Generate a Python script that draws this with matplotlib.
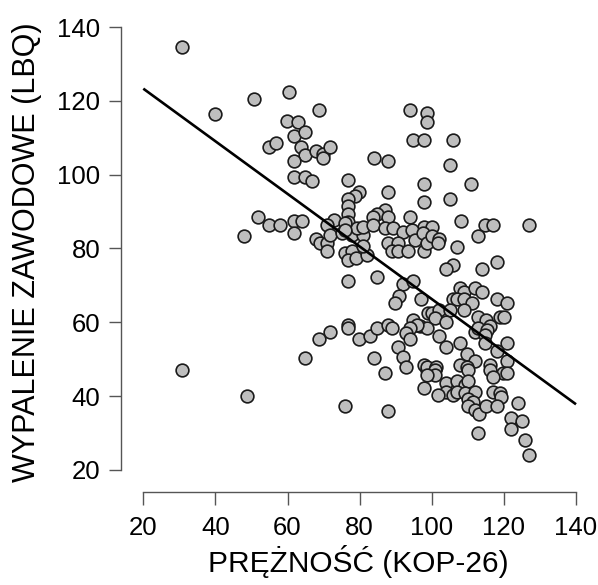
import matplotlib
matplotlib.use("Agg")
import matplotlib.pyplot as plt
import numpy as np

plt.rcParams['font.family'] = ['Liberation Sans', 'DejaVu Sans']

# PREZNOSC (KOP-26) values
resilience = [
    30.8, 39.8, 50.8, 60.5, 59.8, 62.8, 54.8, 56.8, 61.8, 64.8, 63.8, 64.8, 67.9, 69.9, 69.9, 71.9,
    68.8, 61.8, 61.8, 64.8, 66.9, 51.8, 54.8, 57.9, 47.8, 30.8, 48.8, 61.9, 63.9, 61.9,
    83.9, 87.9, 94.0, 98.6, 98.6, 94.9, 97.8, 76.8, 79.8, 78.8, 76.8, 76.8, 76.8, 76.8, 87.9,
    97.8, 97.8, 86.9, 84.9, 87.9, 83.8, 94.0, 73.0, 70.9,
    106.0, 105.0, 110.9, 105.0, 108.0, 114.8, 116.9, 127.0, 97.8, 100.0,
    67.9, 69.0, 70.9, 70.9, 71.8, 75.9, 75.0, 77.8, 81.0, 79.2, 75.9, 75.9, 77.8, 76.8, 79.0,
    81.9, 81.0, 81.0, 83.8, 87.0, 89.3, 92.1, 94.4, 95.3, 97.6, 87.9, 90.7, 88.9, 90.7, 93.5,
    97.8, 98.6, 100.0, 102.1, 101.8,
    112.9, 106.9, 106.0, 103.9, 113.9, 118.0,
    76.8, 84.9, 91.9, 94.9, 90.9, 89.8, 96.9, 99.0,
    107.8, 109.0, 112.0, 114.0, 106.0, 106.9, 109.0, 111.1, 118.0, 120.9,
    100.0, 102.1, 105.0, 100.9, 103.9, 108.9, 112.9, 115.0, 116.1, 118.9, 120.0,
    96.7, 98.8, 102.1, 103.9, 112.0, 112.9, 115.2, 114.8, 107.8, 114.8, 120.9, 109.9, 112.0, 118.0,
    94.9, 95.8, 94.0, 92.9, 94.0, 90.7, 91.9, 92.8, 97.8,
    76.8, 76.8, 71.8, 68.8, 79.9, 82.9, 84.9, 87.9, 89.0, 64.8, 84.0,
    87.0, 98.8, 97.8, 75.9, 87.9,
    98.8, 101.2, 107.8, 109.9, 116.1, 120.9,
    100.9, 100.9, 98.8, 110.1, 116.1, 119.8, 120.9, 116.9,
    103.9, 106.9, 109.2, 110.1, 103.9, 101.8, 106.0, 106.9, 109.2, 112.0, 116.9, 118.9, 119.1,
    110.1, 111.5, 110.1, 112.0, 113.2, 115.0, 118.0, 124.0, 122.0, 124.9, 122.0, 112.9, 125.9, 127.0,
]

# WYPALENIE ZAWODOWE (LBQ) values
burnout = [
    134.6, 116.5, 120.5, 122.5, 114.5, 114.4, 107.5, 108.5, 110.5, 111.5, 107.6, 105.4, 106.5, 105.6, 104.5, 107.4,
    117.6, 103.6, 99.5, 99.5, 98.4, 88.4, 86.4, 86.4, 83.3, 47.2, 40.1, 87.5, 87.5, 84.3,
    104.5, 103.6, 117.6, 116.7, 114.4, 109.4, 109.4, 98.6, 95.4, 94.3, 93.4, 91.4, 89.4, 87.3, 95.4,
    97.4, 92.5, 90.5, 89.3, 88.5, 88.5, 88.5, 87.8, 86.4,
    109.4, 102.5, 97.4, 93.4, 87.5, 86.4, 86.4, 86.4, 85.9, 85.9,
    82.5, 81.4, 81.4, 79.2, 83.7, 86.9, 84.1, 83.7, 83.7, 85.5, 85.0, 78.7, 79.2, 76.9, 77.4,
    78.3, 80.7, 85.9, 86.4, 85.5, 85.5, 84.6, 85.0, 82.3, 84.1, 81.4, 81.4, 79.2, 79.2, 79.2,
    79.2, 81.4, 83.4, 82.5, 81.4,
    83.4, 80.4, 75.4, 74.4, 74.4, 76.3,
    71.3, 72.4, 70.4, 71.3, 67.2, 65.2, 66.3, 62.4,
    69.2, 68.3, 69.2, 68.3, 66.3, 66.3, 66.3, 65.3, 66.3, 65.3,
    62.4, 63.4, 63.4, 61.1, 60.2, 63.4, 61.4, 60.5, 58.9, 61.4, 61.4,
    58.9, 58.4, 56.3, 53.4, 57.5, 58.4, 57.9, 56.6, 54.5, 54.3, 54.3, 51.3, 49.4, 52.3,
    60.7, 59.3, 58.4, 57.1, 55.4, 53.4, 50.7, 48.0, 48.5,
    59.3, 58.4, 57.3, 55.5, 55.5, 56.3, 58.4, 59.3, 58.4, 50.3, 50.3,
    46.2, 47.1, 42.1, 37.2, 36.1,
    48.0, 48.0, 48.5, 48.0, 48.5, 49.4,
    47.1, 45.7, 45.7, 47.1, 47.1, 46.2, 46.2, 45.3,
    43.5, 44.2, 43.0, 44.2, 41.2, 40.3, 40.3, 41.2, 40.9, 41.2, 41.2, 40.8, 39.9,
    39.2, 38.5, 37.2, 36.3, 35.2, 37.2, 37.2, 38.2, 34.2, 33.3, 31.1, 30.1, 28.1, 24.1,
]

# Regression line
reg_intercept_at_20 = 123.3
reg_slope = -0.7125
reg_x_range = [20, 140]

x_ticks = [20, 40, 60, 80, 100, 120, 140]
y_ticks = [20, 40, 60, 80, 100, 120, 140]
x_label = "PRĘŻNOŚĆ (KOP-26)"
y_label = "WYPALENIE ZAWODOWE (LBQ)"

W, H = 598, 585
fig = plt.figure(figsize=(W / 100, H / 100), dpi=100)
left_px, right_px, bottom_px, top_px = 121, 598, 492, 5
ax = fig.add_axes([left_px / W, 1 - bottom_px / H, (right_px - left_px) / W, (bottom_px - top_px) / H])

ax.scatter(resilience, burnout, s=84, facecolor='#BEBEBE', edgecolor='#1a1a1a', linewidths=1.2, zorder=3)

lx = np.array(reg_x_range, dtype=float)
ly = reg_intercept_at_20 + reg_slope * (lx - 20)
ax.plot(lx, ly, color='black', linewidth=1.9, zorder=4, solid_capstyle='butt')

ax.set_xlim(20 - (143.3 - left_px) / 3.606, 20 + (right_px - 143.3) / 3.606)
ax.set_ylim(20 - (bottom_px - 470) / 3.69, 140 + (27 - top_px) / 3.69)

for s in ['top', 'right']:
    ax.spines[s].set_visible(False)
ax.spines['left'].set_bounds(20, 140)
ax.spines['bottom'].set_bounds(20, 140)
for s in ['left', 'bottom']:
    ax.spines[s].set_color('#555555')
    ax.spines[s].set_linewidth(1.0)

ax.set_xticks(x_ticks)
ax.set_yticks(y_ticks)
ax.tick_params(axis='both', length=9, width=1.0, color='#555555', labelsize=18.5, labelcolor='black')
ax.tick_params(axis='x', pad=8)
ax.tick_params(axis='y', pad=6)

fig.text(358 / W, 1 - 561 / H, x_label, ha='center', va='center', fontsize=21.5)
fig.text(27 / W, 1 - 252 / H, y_label, ha='center', va='center', fontsize=22, rotation=90)

fig.savefig("out.png", dpi=100)
